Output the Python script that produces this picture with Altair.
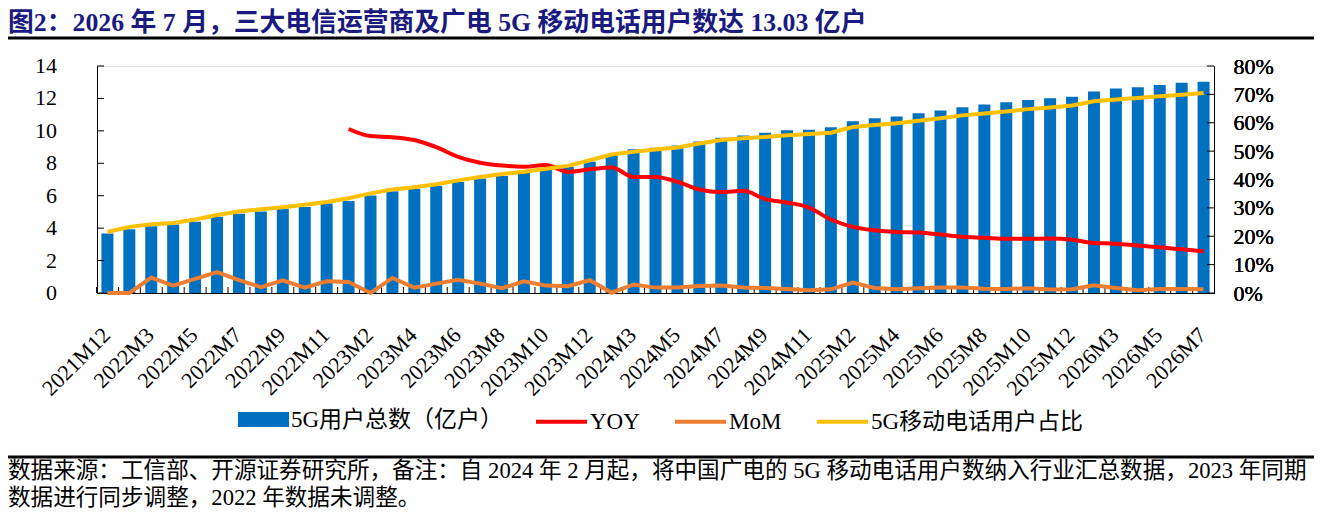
import altair as alt
import pandas as pd

# ---------------- data ----------------
cats = [
    "2021M12",
    "2022M2", "2022M3", "2022M4", "2022M5", "2022M6", "2022M7", "2022M8", "2022M9", "2022M10", "2022M11", "2022M12",
    "2023M2", "2023M3", "2023M4", "2023M5", "2023M6", "2023M7", "2023M8", "2023M9", "2023M10", "2023M11", "2023M12",
    "2024M2", "2024M3", "2024M4", "2024M5", "2024M6", "2024M7", "2024M8", "2024M9", "2024M10", "2024M11", "2024M12",
    "2025M2", "2025M3", "2025M4", "2025M5", "2025M6", "2025M7", "2025M8", "2025M9", "2025M10", "2025M11", "2025M12",
    "2026M2", "2026M3", "2026M4", "2026M5", "2026M6", "2026M7",
]
x_labels = cats[::2]

users = [3.67, 3.93, 4.12, 4.22, 4.39, 4.70, 4.88, 5.03, 5.19, 5.31,
         5.52, 5.68, 6.01, 6.28, 6.41, 6.60, 6.84, 7.06, 7.21, 7.41,
         7.62, 7.78, 8.09, 8.57, 8.86, 8.96, 9.10, 9.35, 9.58, 9.72,
         9.88, 10.03, 10.07, 10.22, 10.60, 10.77, 10.89, 11.08, 11.26, 11.45,
         11.63, 11.76, 11.90, 12.01, 12.11, 12.42, 12.62, 12.69, 12.83, 12.96, 13.03]

# YOY starts at 2022M12
yoy = [57.8, 55.3, 54.9, 53.9, 51.4, 48.0, 45.9, 44.9, 44.5, 45.1,
       42.7, 43.6, 44.2, 40.9, 40.9, 39.2, 36.5, 35.6, 36.0, 33.1,
       31.9, 30.1, 25.9, 23.3, 22.1, 21.5, 21.3, 20.6, 19.8, 19.5,
       19.1, 19.1, 19.2, 18.8, 17.6, 17.4, 16.7, 16.1, 15.4, 14.7]
yoy_cats = cats[11:]

mom = [0.0, 0.0, 5.4, 2.6, 5.0, 7.4, 4.5, 2.1, 4.5, 1.9,
       4.1, 3.9, 0.0, 5.3, 1.9, 3.3, 4.7, 3.3, 1.7, 4.1,
       2.6, 2.4, 4.5, 0.1, 3.0, 1.9, 1.9, 2.5, 2.6, 1.9,
       1.8, 1.4, 0.95, 1.3, 3.7, 1.8, 1.3, 1.7, 1.9, 1.9,
       1.5, 1.4, 1.7, 1.2, 1.3, 2.7, 1.8, 0.95, 1.4, 1.4, 1.3]

ratio = [21.5, 23.3, 24.2, 24.7, 25.9, 27.5, 28.7, 29.5, 30.2, 31.1,
         32.1, 33.4, 35.1, 36.5, 37.3, 38.3, 39.7, 40.9, 41.9, 42.7,
         43.8, 44.8, 46.8, 48.8, 49.8, 50.6, 51.3, 52.7, 53.9, 54.5,
         55.0, 55.6, 56.0, 56.5, 58.5, 59.2, 59.8, 60.7, 61.6, 62.6,
         63.3, 64.0, 64.8, 65.4, 66.1, 67.6, 68.2, 68.7, 69.3, 69.9, 70.5]

left_ticks = [0, 2, 4, 6, 8, 10, 12, 14]
right_ticks = [0, 10, 20, 30, 40, 50, 60, 70, 80]

BAR_NAME = "5G用户总数（亿户）"
series_names = ["YOY", "MoM", "5G移动电话用户占比"]
series_colors = ["#FF0000", "#ED7D31", "#FFC000"]

title_text = "图2：2026 年 7 月，三大电信运营商及广电 5G 移动电话用户数达 13.03 亿户"
foot1 = "数据来源：工信部、开源证券研究所，备注：自 2024 年 2 月起，将中国广电的 5G 移动电话用户数纳入行业汇总数据，2023 年同期"
foot2 = "数据进行同步调整，2022 年数据未调整。"

# ---------------- frames ----------------
bars_df = pd.DataFrame({"cat": cats, "v": users, "s": BAR_NAME})
lines_df = pd.concat([
    pd.DataFrame({"cat": yoy_cats, "value": yoy, "series": "YOY"}),
    pd.DataFrame({"cat": cats, "value": mom, "series": "MoM"}),
    pd.DataFrame({"cat": cats, "value": ratio, "series": "5G移动电话用户占比"}),
], ignore_index=True)

FONT = "Liberation Serif, Noto Sans CJK SC"
W, H = 1117, 227

x_scale = alt.Scale(domain=cats, paddingInner=0.45, paddingOuter=0.2)
x_axis = alt.Axis(values=x_labels, title=None, labelAngle=-45, labelAlign="right",
                  labelBaseline="top", labelFont=FONT, labelFontSize=22, labelColor="black",
                  labelFontWeight="normal", labelPadding=31, labelOffset=-8,
                  ticks=False, tickSize=0, labelLimit=0,
                  domainColor="black", domainWidth=1, grid=False, labelOverlap=False)


def xenc(**kw):
    return alt.X("cat:N", sort=cats, scale=x_scale, axis=x_axis, **kw)


bars = alt.Chart(bars_df).mark_bar(size=12).encode(
    x=xenc(),
    y=alt.Y("v:Q", scale=alt.Scale(domain=[0, 14]),
            axis=alt.Axis(orient="left", values=left_ticks, title=None, labels=False,
                          ticks=False, tickSize=0, grid=False, domainColor="black")),
    fill=alt.Fill("s:N", scale=alt.Scale(domain=[BAR_NAME], range=["#0070C0"]),
                  legend=alt.Legend(orient="none", legendX=141, legendY=328, title=None,
                                    direction="horizontal", padding=0,
                                    symbolType="M-1,-0.294H1V0.294H-1Z", symbolSize=2601,
                                    symbolStrokeWidth=0, labelFont=FONT, labelFontSize=23,
                                    labelFontWeight="normal", labelLimit=0,
                                    labelColor="black", labelOffset=2)),
)

xticks = alt.Chart(pd.DataFrame({"cat": cats})).mark_rule(color="black", strokeWidth=1, xOffset=-4.9).encode(
    x=xenc(bandPosition=0),
    y=alt.value(H - 6), y2=alt.value(H),
)

line_legend = alt.Legend(orient="none", legendX=437, legendY=328, title=None,
                         direction="horizontal", padding=0, symbolType="stroke",
                         symbolSize=2601, symbolStrokeWidth=4, labelFont=FONT,
                         labelFontSize=23, labelFontWeight="normal", labelLimit=0,
                         labelColor="black", labelOffset=1, columnPadding=27)
right_axis = alt.Axis(orient="right", values=right_ticks, title=None, labelFont=FONT,
                      labelFontSize=22, labelColor="black", labelFontWeight="normal",
                      labelPadding=19, labelExpr="datum.value + '%'", ticks=False,
                      tickSize=0, grid=False, domainColor="black")
stroke_enc = alt.Stroke("series:N", scale=alt.Scale(domain=series_names, range=series_colors),
                        legend=line_legend)

yoy_line = alt.Chart(lines_df).transform_filter(alt.datum.series == "YOY").mark_line(
    strokeWidth=4, interpolate="monotone").encode(
    x=xenc(), y=alt.Y("value:Q", scale=alt.Scale(domain=[0, 80]), axis=right_axis),
    stroke=stroke_enc)
mom_line = alt.Chart(lines_df).transform_filter(alt.datum.series == "MoM").mark_line(
    strokeWidth=4).encode(
    x=xenc(), y=alt.Y("value:Q", scale=alt.Scale(domain=[0, 80]), axis=right_axis),
    stroke=stroke_enc)
ratio_line = alt.Chart(lines_df).transform_filter(alt.datum.series == "5G移动电话用户占比").mark_line(
    strokeWidth=4).encode(
    x=xenc(), y=alt.Y("value:Q", scale=alt.Scale(domain=[0, 80]), axis=right_axis),
    stroke=stroke_enc)

ltick_df = pd.DataFrame({"t": left_ticks, "lab": [str(v) for v in left_ticks]})
lticks = alt.Chart(ltick_df).mark_rule(color="black").encode(
    y=alt.Y("t:Q", scale=alt.Scale(domain=[0, 14]), axis=None),
    x=alt.value(0), x2=alt.value(7))
llabels = alt.Chart(ltick_df).mark_text(
    align="right", baseline="middle", font=FONT, fontSize=22, color="black").encode(
    y=alt.Y("t:Q", scale=alt.Scale(domain=[0, 14]), axis=None),
    x=alt.value(-40), text="lab:N")
rticks = alt.Chart(pd.DataFrame({"t": right_ticks})).mark_rule(color="black").encode(
    y=alt.Y("t:Q", scale=alt.Scale(domain=[0, 80]), axis=None),
    x=alt.value(W - 7), x2=alt.value(W))

title_mark = alt.Chart(pd.DataFrame({"t": [title_text]})).mark_text(
    align="left", baseline="middle", font=FONT, fontSize=25.8, fontWeight="bold",
    color="#1a1a80").encode(text="t:N", x=alt.value(-89), y=alt.value(-43.5))
title_rule = alt.Chart(pd.DataFrame({"a": [0]})).mark_rule(color="black", strokeWidth=3).encode(
    x=alt.value(-89), x2=alt.value(W + 100), y=alt.value(-28))
foot_rule = alt.Chart(pd.DataFrame({"a": [0]})).mark_rule(color="black", strokeWidth=3).encode(
    x=alt.value(-89), x2=alt.value(W + 100), y=alt.value(391))
foot_mark1 = alt.Chart(pd.DataFrame({"t": [foot1]})).mark_text(
    align="left", baseline="middle", font=FONT, fontSize=22.6, fontWeight="normal",
    color="black").encode(text="t:N", x=alt.value(-89), y=alt.value(405))
foot_mark2 = alt.Chart(pd.DataFrame({"t": [foot2]})).mark_text(
    align="left", baseline="middle", font=FONT, fontSize=22.6, fontWeight="normal",
    color="black").encode(text="t:N", x=alt.value(-89), y=alt.value(432))

chart = alt.layer(
    bars, xticks, yoy_line, mom_line, ratio_line, lticks, llabels, rticks,
    title_mark, title_rule, foot_rule, foot_mark1, foot_mark2,
).resolve_scale(y="independent").properties(
    width=W, height=H,
    autosize=alt.AutoSizeParams(type="none"),
    padding={"left": 89, "top": 58, "right": 100, "bottom": 219},
).configure_view(stroke=None).configure(background="white")

chart.save("out.html", embed_options={"renderer": "svg", "actions": False})
